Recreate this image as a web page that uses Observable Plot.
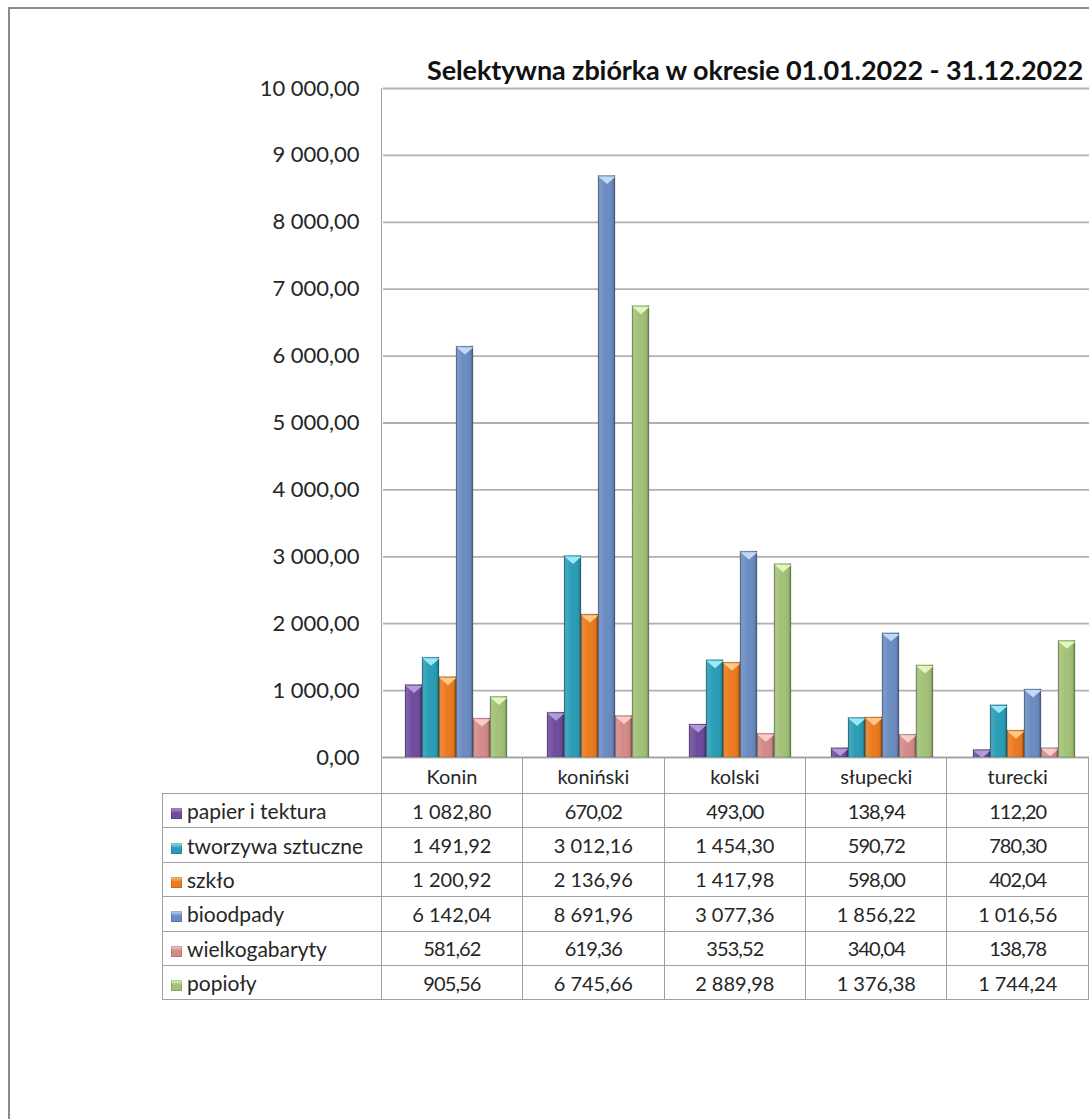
<!DOCTYPE html>
<html>
<head>
<meta charset="utf-8">
<script src="https://cdn.jsdelivr.net/npm/d3@7"></script>
<script src="https://cdn.jsdelivr.net/npm/@observablehq/plot@0.6"></script>
<style>
  html, body { margin: 0; padding: 0; background: #fff; overflow: hidden; width: 1089px; height: 1119px; }
  #frame { position: absolute; left: 8px; top: 7px; width: 1200px; height: 1300px; border: 2px solid #8a8a8a; box-sizing: border-box; }
  #chart { position: absolute; left: 0; top: 0; }
  #title { position: absolute; left: 427px; top: 53px; font: bold 27px Lato, sans-serif; color: #111; white-space: nowrap; letter-spacing: -0.1px; }
  #leftline { position: absolute; left: 381px; top: 88px; width: 1px; height: 669px; background: #a0a0a0; }
  table { position: absolute; left: 162px; top: 757px; border-collapse: collapse; table-layout: fixed; font: 20px Lato, sans-serif; color: #262626; }
  td { border: 1px solid #a0a0a0; text-align: center; padding: 0; white-space: nowrap; }
  td.num { letter-spacing: -0.9px; }
  td.lab { text-align: left; padding-left: 8px; font-size: 21px; }
  td.blank { border-left: none; border-top: none; border-bottom: 1px solid #a0a0a0; }
  .key { display: inline-block; width: 11px; height: 11px; margin-right: 5px; vertical-align: 0px; }
</style>
</head>
<body>
<div id="frame"></div>
<div id="chart"></div>
<div id="leftline"></div>
<div id="title"></div>
<table id="tbl"></table>
<script>
const titleText = "Selektywna zbiórka w okresie 01.01.2022 - 31.12.2022";
const categories = ["Konin", "koniński", "kolski", "słupecki", "turecki"];
const seriesNames = ["papier i tektura", "tworzywa sztuczne", "szkło", "bioodpady", "wielkogabaryty", "popioły"];
const papier = [1082.80, 670.02, 493.00, 138.94, 112.20];
const tworzywa = [1491.92, 3012.16, 1454.30, 590.72, 780.30];
const szklo = [1200.92, 2136.96, 1417.98, 598.00, 402.04];
const bioodpady = [6142.04, 8691.96, 3077.36, 1856.22, 1016.56];
const wielkogabaryty = [581.62, 619.36, 353.52, 340.04, 138.78];
const popioly = [905.56, 6745.66, 2889.98, 1376.38, 1744.24];
const yTicks = [0, 1000, 2000, 3000, 4000, 5000, 6000, 7000, 8000, 9000, 10000];
const colors = ["#6e4c9e", "#2a9db6", "#ec7a1e", "#6a8cc1", "#d58a88", "#a2c177"];
const topColors = ["#b39ad8", "#9ae8f8", "#ffc98a", "#c2d8f7", "#f7cdcb", "#e2f5bf"];

const seriesValues = [papier, tworzywa, szklo, bioodpady, wielkogabaryty, popioly];
const rows = [];
seriesNames.forEach((s, i) => categories.forEach((c, j) => rows.push({cat: c, series: s, si: i, value: seriesValues[i][j]})));

const locale = d3.formatLocale({decimal: ",", thousands: "\u202F", grouping: [3], currency: ["", ""]});
const fmt = locale.format(",.2f");

const chevron = {
  draw(ctx) {
    ctx.moveTo(-8.6, 0.6);
    ctx.lineTo(8.6, 0.6);
    ctx.lineTo(0, 8);
    ctx.closePath();
  }
};

const marks = [Plot.ruleY(yTicks, {stroke: "#b0b0b0", strokeWidth: 1.8})];
seriesNames.forEach((s, i) => {
  const d = rows.filter(r => r.si === i);
  marks.push(Plot.barY(d, {fx: "cat", x: "series", y: "value", fill: colors[i], stroke: "rgba(0,0,0,0.2)", strokeWidth: 0.8}));
  marks.push(Plot.barY(d, {fx: "cat", x: "series", y: "value", fill: "url(#shade)"}));
  marks.push(Plot.dot(d, {fx: "cat", x: "series", y: "value", symbol: chevron, fill: topColors[i], stroke: "none"}));
});

const svg = Plot.plot({
  width: 1094,
  height: 758,
  marginLeft: 381,
  marginRight: 0,
  marginTop: 88,
  marginBottom: 1,
  style: {fontFamily: "Lato, sans-serif", fontSize: "22px", color: "#262626", background: "transparent", maxWidth: "none", overflow: "visible"},
  fx: {domain: categories, padding: 0, axis: null},
  x: {domain: seriesNames, paddingInner: 0, paddingOuter: 1, align: 0.56, axis: null},
  y: {domain: [0, 10000], ticks: yTicks, tickFormat: fmt, tickSize: 0, tickPadding: 24, label: null},
  marks
});

const defs = d3.select(svg).append("defs");
const g = defs.append("linearGradient").attr("id", "shade").attr("x1", 0).attr("x2", 1).attr("y1", 0).attr("y2", 0);
[[0, "#000", 0.35], [0.12, "#fff", 0.12], [0.45, "#fff", 0.0], [0.85, "#000", 0.05], [1, "#000", 0.35]].forEach(([o, c, a]) =>
  g.append("stop").attr("offset", o).attr("stop-color", c).attr("stop-opacity", a));

document.getElementById("chart").appendChild(svg);
document.getElementById("title").textContent = titleText;

// data table
const tbl = d3.select("#tbl");
const cg = tbl.append("colgroup");
cg.append("col").style("width", "219px");
categories.forEach(() => cg.append("col").style("width", "142.6px"));
const hr = tbl.append("tr").style("height", "36px");
hr.append("td").attr("class", "blank");
categories.forEach(c => hr.append("td").text(c));
seriesNames.forEach((s, i) => {
  const tr = tbl.append("tr").style("height", "34.4px");
  const lab = tr.append("td").attr("class", "lab");
  lab.append("span").attr("class", "key")
    .style("background", `linear-gradient(to bottom, ${topColors[i]} 0%, ${colors[i]} 45%, ${colors[i]} 100%)`)
    .style("box-shadow", "inset 0 0 0 1px rgba(0,0,0,0.15)");
  lab.append("span").text(s);
  seriesValues[i].forEach(v => tr.append("td").attr("class", "num").text(fmt(v)));
});
</script>
</body>
</html>
